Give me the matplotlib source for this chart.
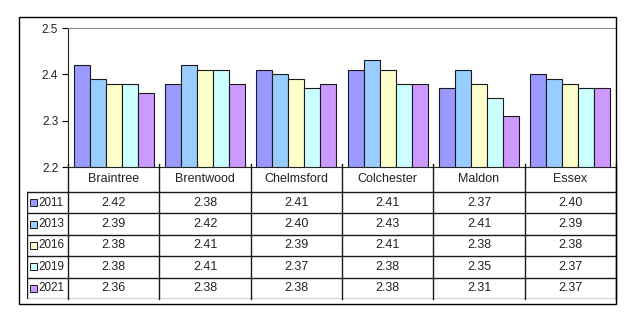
import matplotlib.pyplot as plt
from matplotlib.patches import Rectangle
import numpy as np

plt.rcParams['font.family'] = ['Liberation Sans', 'DejaVu Sans']

# data
areas = ['Braintree', 'Brentwood', 'Chelmsford', 'Colchester', 'Maldon', 'Essex']
years = ['2011', '2013', '2016', '2019', '2021']
v2011 = [2.42, 2.38, 2.41, 2.41, 2.37, 2.40]
v2013 = [2.39, 2.42, 2.40, 2.43, 2.41, 2.39]
v2016 = [2.38, 2.41, 2.39, 2.41, 2.38, 2.38]
v2019 = [2.38, 2.41, 2.37, 2.38, 2.35, 2.37]
v2021 = [2.36, 2.38, 2.38, 2.38, 2.31, 2.37]
series = [v2011, v2013, v2016, v2019, v2021]
colors = ['#9999FF', '#99CCFF', '#FFFFCC', '#CCFFFF', '#CC99FF']

W, H = 630, 322
def rect(x0, y0, x1, y1):
    return [x0 / W, 1 - y1 / H, (x1 - x0) / W, (y1 - y0) / H]

fig = plt.figure(figsize=(6.3, 3.22), dpi=100)

# outer frame
fig.add_artist(Rectangle((19 / W, 1 - 304 / H), (616 - 19) / W, (304 - 17) / H,
                         transform=fig.transFigure, fill=False, ec='black', lw=1.0))

# bars
ax = fig.add_axes(rect(68, 28, 616, 167))
x = np.arange(len(areas))
bw = 0.175
for i, (vals, c) in enumerate(zip(series, colors)):
    ax.bar(x + (i - 2) * bw, vals, bw, color=c, edgecolor='#1a1a1a', lw=0.8, zorder=2)
ax.set_xlim(-0.5, len(areas) - 0.5)
ax.set_ylim(2.2, 2.5)
ax.set_yticks([2.2, 2.3, 2.4, 2.5])
ax.set_yticklabels(['2.2', '2.3', '2.4', '2.5'], fontsize=8.5, color='#222222')
ax.set_xticks([])
ax.tick_params(axis='y', direction='out', length=4, width=0.8, pad=3)
ax.spines['right'].set_visible(False)
ax.spines['top'].set_color('#888888')
ax.spines['left'].set_color('#222222')
ax.spines['bottom'].set_color('#222222')
ax.patch.set_alpha(0)

# data table
unit = 548 / len(areas)
left = -0.5 - 41 / unit
hdr = 25 / 21.4
tax = fig.add_axes(rect(27, 167, 616, 299))
tax.set_xlim(left, len(areas) - 0.5)
tax.set_ylim(len(years), -hdr)
tax.axis('off')
lc = '#1a1a1a'
for b in np.arange(-0.5, len(areas)):
    tax.plot([b, b], [-hdr - 0.15, len(years)], color=lc, lw=1.0, clip_on=False)
tax.plot([left, left], [0, len(years)], color=lc, lw=1.0)
for r in range(len(years) + 1):
    tax.plot([left, len(areas) - 0.5], [r, r], color=lc, lw=1.0)

tc = '#222222'
for j, a in enumerate(areas):
    tax.text(j, -hdr / 2, a, ha='center', va='center', fontsize=9, color=tc)
for i, (yr, vals, c) in enumerate(zip(years, series, colors)):
    tax.add_patch(Rectangle((left + 3 / unit, i + 0.5 - 0.16), 6.5 / unit, 0.32,
                            facecolor=c, edgecolor='#1a1a1a', lw=0.7))
    tax.text(left + 11 / unit, i + 0.5, yr, ha='left', va='center', fontsize=8.4, color=tc)
    for j, v in enumerate(vals):
        tax.text(j, i + 0.5, f'{v:.2f}', ha='center', va='center', fontsize=9, color=tc)

fig.savefig('out.png', dpi=100)
